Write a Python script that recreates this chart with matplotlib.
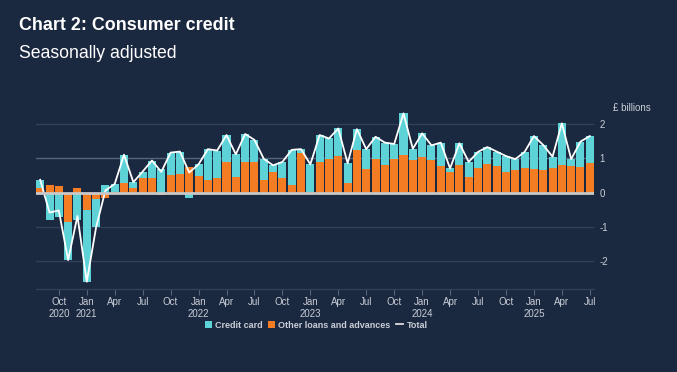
import matplotlib
matplotlib.use("Agg")
import matplotlib.pyplot as plt
import numpy as np
from matplotlib.lines import Line2D
from matplotlib.patches import Patch

plt.rcParams['font.family'] = ['Liberation Sans', 'DejaVu Sans']

# Monthly, Aug 2020 .. Jul 2025
months = ["Aug 2020", "Sep 2020", "Oct 2020", "Nov 2020", "Dec 2020",
          "Jan 2021", "Feb 2021", "Mar 2021", "Apr 2021", "May 2021", "Jun 2021",
          "Jul 2021", "Aug 2021", "Sep 2021", "Oct 2021", "Nov 2021", "Dec 2021",
          "Jan 2022", "Feb 2022", "Mar 2022", "Apr 2022", "May 2022", "Jun 2022",
          "Jul 2022", "Aug 2022", "Sep 2022", "Oct 2022", "Nov 2022", "Dec 2022",
          "Jan 2023", "Feb 2023", "Mar 2023", "Apr 2023", "May 2023", "Jun 2023",
          "Jul 2023", "Aug 2023", "Sep 2023", "Oct 2023", "Nov 2023", "Dec 2023",
          "Jan 2024", "Feb 2024", "Mar 2024", "Apr 2024", "May 2024", "Jun 2024",
          "Jul 2024", "Aug 2024", "Sep 2024", "Oct 2024", "Nov 2024", "Dec 2024",
          "Jan 2025", "Feb 2025", "Mar 2025", "Apr 2025", "May 2025", "Jun 2025",
          "Jul 2025"]

other_loans = [0.13, 0.22, 0.19, -0.85, 0.12, -0.50, -0.19, -0.15, 0.02, 0.29,
               0.14, 0.42, 0.42, -0.08, 0.51, 0.53, 0.74, 0.48, 0.37, 0.42,
               0.90, 0.44, 0.90, 0.90, 0.37, 0.61, 0.42, 0.22, 1.14, 0.02,
               0.90, 0.98, 1.06, 0.29, 1.24, 0.68, 0.97, 0.79, 0.97, 1.09,
               0.95, 1.02, 0.95, 0.77, 0.59, 0.79, 0.46, 0.72, 0.84, 0.77,
               0.61, 0.65, 0.72, 0.68, 0.65, 0.70, 0.81, 0.77, 0.74, 0.87]

credit_card = [0.24, -0.80, -0.71, -1.11, -0.80, -2.09, -0.82, 0.21, 0.23, 0.81,
               0.16, 0.19, 0.51, 0.68, 0.65, 0.66, -0.16, 0.34, 0.89, 0.80,
               0.77, 0.67, 0.80, 0.63, 0.61, 0.18, 0.47, 1.02, 0.12, 0.80,
               0.77, 0.59, 0.80, 0.56, 0.60, 0.58, 0.65, 0.66, 0.44, 1.21,
               0.32, 0.70, 0.42, 0.68, 0.11, 0.64, 0.43, 0.46, 0.48, 0.42,
               0.45, 0.32, 0.46, 0.96, 0.73, 0.34, 1.20, 0.20, 0.74, 0.77]

total = [0.37, -0.58, -0.52, -1.96, -0.68, -2.59, -1.01, 0.06, 0.25, 1.10,
         0.30, 0.61, 0.93, 0.60, 1.16, 1.19, 0.58, 0.82, 1.26, 1.22,
         1.67, 1.11, 1.70, 1.53, 0.98, 0.79, 0.89, 1.24, 1.26, 0.82,
         1.67, 1.57, 1.86, 0.85, 1.84, 1.26, 1.62, 1.45, 1.41, 2.30,
         1.27, 1.72, 1.37, 1.45, 0.70, 1.43, 0.89, 1.18, 1.32, 1.19,
         1.06, 0.97, 1.18, 1.64, 1.38, 1.04, 2.01, 0.97, 1.48, 1.64]

y_ticks = [-2, -1, 0, 1, 2]
y_tick_labels = ["-2", "-1", "0", "1", "2"]

BG = "#1a2840"
CYAN = "#5dd3d8"
ORANGE = "#f47c22"
TXT = "#c9ced6"

fig = plt.figure(figsize=(6.77, 3.72), dpi=100, facecolor=BG)
ax = fig.add_axes([36/677, 1-289/372, (594-36)/677, (289-103)/372])
ax.set_facecolor(BG)

x = np.arange(len(months))
ol = np.array(other_loans)
cc = np.array(credit_card)
# orange stacked first from zero; cyan stacked on same sign side
cc_bottom = np.where(np.sign(cc) == np.sign(ol), ol, 0.0)
w = 0.86
ax.bar(x, ol, width=w, color=ORANGE, zorder=3, linewidth=0)
ax.bar(x, cc, width=w, bottom=cc_bottom, color=CYAN, zorder=3, linewidth=0)
ax.plot(x, total, color="white", lw=1.3, zorder=4)

ax.set_xlim(-0.45, len(months) - 0.55)
ax.set_ylim(-2.8, 2.6)

# gridlines
for yv in y_ticks:
    if yv == 0:
        continue
    col = "#56647a" if yv == 1 else "#334158"
    ax.axhline(yv, color=col, lw=1.0, zorder=1)
ax.axhline(0, color="#c8c8c8", lw=2.0, zorder=5)

for s in ["top", "left", "right"]:
    ax.spines[s].set_visible(False)
ax.spines["bottom"].set_color("#334158")
ax.spines["bottom"].set_linewidth(1.0)

ax.yaxis.tick_right()
ax.set_yticks(y_ticks)
ax.set_yticklabels(y_tick_labels)
ax.tick_params(axis="y", length=0, colors=TXT, labelsize=7, pad=4)

tick_pos = []
tick_lab = []
for i, m in enumerate(months):
    mon, yr = m.split()
    if mon in ("Jan", "Apr", "Jul", "Oct"):
        tick_pos.append(i)
        if mon == "Jan" or (mon == "Oct" and yr == "2020"):
            tick_lab.append(mon + "\n" + yr)
        else:
            tick_lab.append(mon)
ax.set_xticks(tick_pos)
ax.set_xticklabels(tick_lab, linespacing=1.25)
ax.tick_params(axis="x", length=4, colors=TXT, labelsize=7, pad=2, color="#56647a")

fig.text(613/677, 1-108/372, "£ billions", color=TXT, fontsize=7, va="center", ha="left")

fig.text(19/677, 1-25/372, "Chart 2: Consumer credit", color="white", fontsize=12.9,
         fontweight="bold", va="center", ha="left")
fig.text(19/677, 1-53/372, "Seasonally adjusted", color="white", fontsize=12.7,
         va="center", ha="left")

handles = [Patch(facecolor=CYAN, edgecolor="none", label="Credit card"),
           Patch(facecolor=ORANGE, edgecolor="none", label="Other loans and advances"),
           Line2D([0], [0], color="#dddddd", lw=1.3, label="Total")]
leg = fig.legend(handles=handles, loc="center", bbox_to_anchor=(316/677, 1-325/372),
                 ncol=3, frameon=False, handlelength=0.8, handleheight=0.9,
                 handletextpad=0.35, columnspacing=0.6, labelcolor=TXT,
                 prop={"weight": "bold", "size": 6.5})

fig.savefig("out.png", dpi=100, facecolor=BG)
